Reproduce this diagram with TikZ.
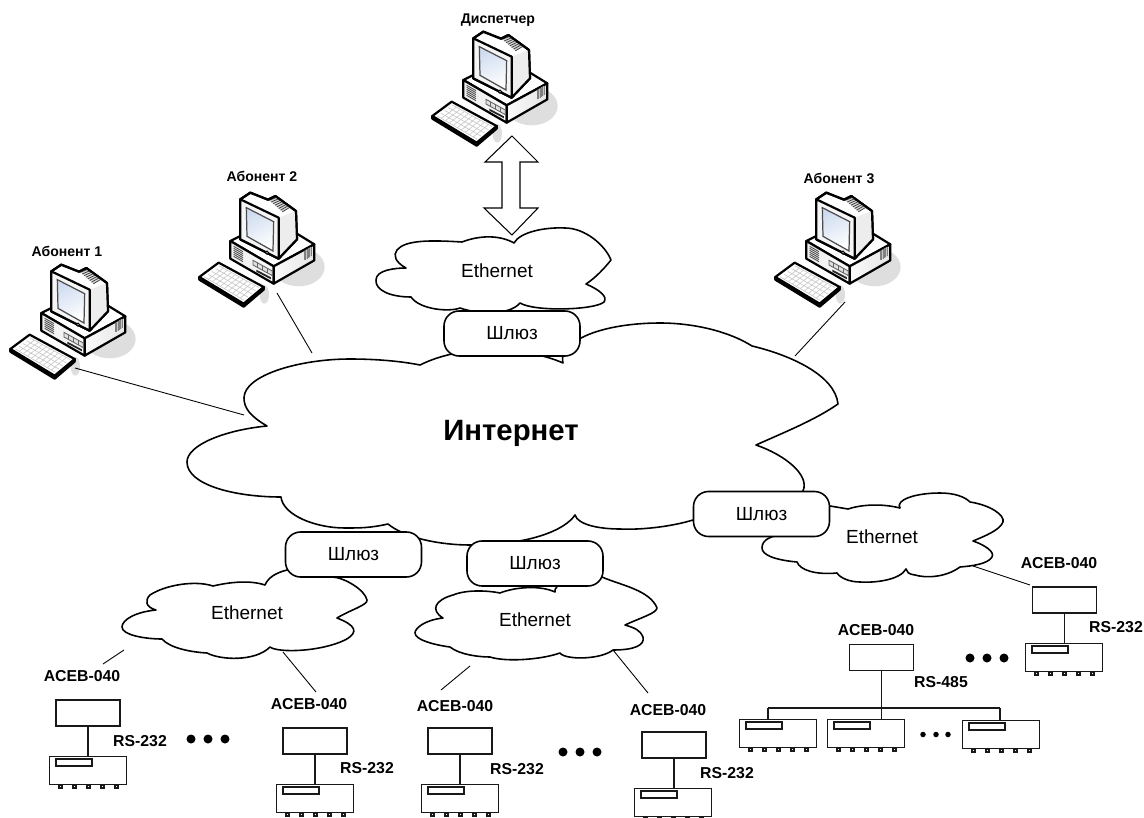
\documentclass[tikz,border=0pt]{standalone}
\usepackage{fontspec}
\setmainfont{Liberation Sans}
\usetikzlibrary{calc}
\definecolor{shadowgray}{HTML}{DEDEDE}
\definecolor{screenblue}{HTML}{CFDCF0}
\tikzset{
  x=0.02cm,y=-0.02cm,
  cloudline/.style={draw=black,fill=white,line width=0.9pt,line join=round},
  gate/.style={draw=black,fill=white,line width=0.9pt,rounded corners=0.3cm,minimum width=2.72cm,minimum height=0.9cm,inner sep=0pt,font=\fontsize{10.8}{12}\selectfont},
  cloudtext/.style={font=\fontsize{10.8}{12}\selectfont,inner sep=0pt},
  biglabel/.style={font=\fontsize{16.7}{18}\selectfont\bfseries,inner sep=0pt},
  tag/.style={font=\fontsize{9}{10}\selectfont\bfseries,inner sep=0pt},
  pclabel/.style={font=\fontsize{8}{9}\selectfont\bfseries,inner sep=0pt},
  acebbox/.style={draw=black!90,fill=white,line width=0.8pt,minimum width=1.28cm,minimum height=0.52cm,inner sep=0pt},
  devbody/.style={draw=black!90,fill=white,line width=0.8pt,minimum width=1.54cm,minimum height=0.56cm,inner sep=0pt,anchor=north west},
  wire/.style={draw=black!90,line width=0.8pt},
  thin wire/.style={draw=black,line width=0.5pt},
  pcline/.style={draw=black,line width=1.25pt,line join=round},
  bigdot/.style={circle,fill=black,inner sep=0pt,minimum size=0.18cm},
  smalldot/.style={circle,fill=black,inner sep=0pt,minimum size=0.11cm},
}
\newcommand{\devicebox}[3]{%
  \node[devbody] (#1) at (#2,#3) {};
  \draw[wire,fill=white] (#2+7,#3+3) rectangle (#2+43,#3+10);
  \foreach \pinx in {10,24,38,52,66}{
    \draw[wire,line width=0.6pt] (#2+\pinx,#3+29) rectangle (#2+\pinx+3,#3+32);
  }
}
\newcommand{\computer}[2]{%
  \begin{scope}[shift={(#1,#2)},x=0.006667cm,y=-0.006667cm]
    \fill[shadowgray] (395,318) ellipse [x radius=78,y radius=58];
    \fill[shadowgray] (292,400) ellipse [x radius=14,y radius=28];
    % base
    \draw[pcline,fill=white] (190,240) -- (320,175) -- (442,250) -- (320,316) -- cycle;
    \draw[pcline,left color=black!7,right color=black!2] (190,240) -- (320,316) -- (320,368) -- (190,293) -- cycle;
    \draw[pcline,left color=black!2,right color=black!10] (320,316) -- (442,250) -- (442,298) -- (320,368) -- cycle;
    \foreach \v in {0,6,...,30}{
      \draw[black!70,line width=0.5pt] (200,256+\v) -- (228,272+\v);
    }
    \fill[black!22] (412,270) -- (432,258) -- (432,286) -- (412,298) -- cycle;
    \foreach \v in {0,4,...,20}{
      \draw[black!50,line width=0.4pt] (412+\v,270-\v*0.6) -- (412+\v,298-\v*0.6);
    }
    \draw[black!60,line width=0.5pt,fill=black!12] (258,298) -- (316,330) -- (316,344) -- (258,312) -- cycle;
    \draw[black!60,line width=0.3pt] (272,306) -- (272,320) (286,314) -- (286,328) (300,322) -- (300,336);
    \fill[black!85] (268,326) -- (312,349) -- (312,355) -- (268,332) -- cycle;
    % monitor
    \draw[pcline,fill=white] (220,115) -- (250,95) -- (303,116) -- (325,105) -- (387,150) -- (390,235) -- (335,293) -- (220,235) -- cycle;
    \fill[black!7] (335,170) -- (387,150) -- (390,235) -- (335,293) -- cycle;
    \fill[black!15] (307,118) -- (332,108) -- (372,138) -- (347,153) -- cycle;
    \foreach \v in {0,0.14,...,1.01}{
      \draw[black!75,line width=0.45pt] ($(307,118)!\v!(347,153)$) -- ($(332,108)!\v!(372,138)$);
    }
    \draw[pcline,fill=white] (220,115) -- (250,95) -- (303,116) -- (325,105) -- (387,150) -- (390,235) -- (335,293) -- (220,235) -- cycle [fill opacity=0];
    \draw[pcline,fill=black!4] (220,115) -- (335,170) -- (335,293) -- (220,235) -- cycle;
    \draw[black!70,line width=0.7pt,left color=screenblue,right color=white,shading angle=25] (238,140) -- (320,182) -- (318,270) -- (240,226) -- cycle;
    \draw[black,line width=0.5pt,fill=black!25] (300,275) circle (5);
    % keyboard
    \draw[pcline,fill=black!15] (97,348) -- (97,356) -- (230,437) -- (290,386) -- (290,378) -- (230,428) -- cycle;
    \draw[pcline,fill=white] (97,348) -- (155,305) -- (290,378) -- (230,428) -- cycle;
    \foreach \t in {0.1,0.2,...,0.95}{
      \draw[black!22,line width=0.35pt] ($(112,348)!\t!(232,418)$) -- ($(157,315)!\t!(277,380)$);
    }
    \foreach \t in {0,0.25,...,1.01}{
      \draw[black!22,line width=0.35pt] ($(112,348)!\t!(157,315)$) -- ($(232,418)!\t!(277,380)$);
    }
  \end{scope}
}
\begin{document}
\begin{tikzpicture}
\useasboundingbox (0,0) rectangle (1144,818);
\fill[white] (0,0) rectangle (1144,818);

% --- computers
\computer{400}{0}
\computer{-22}{233}
\computer{167}{161}
\computer{743}{161}
\node[pclabel] (ldisp) at (498,20) {Диспетчер};
\node[pclabel] (lab1) at (67,251) {Абонент 1};
\node[pclabel] (lab2) at (262,176) {Абонент 2};
\node[pclabel] (lab3) at (839,178) {Абонент 3};

% --- thin connectors from the subscribers
\coordinate (pc1) at (75,368);
\coordinate (pc2) at (277,293);
\coordinate (pc3) at (845,302);
\coordinate (in1) at (244,415);
\coordinate (in2) at (312,353);
\coordinate (in3) at (795,356);
\draw[thin wire] (pc1) -- (in1);
\draw[thin wire] (pc2) -- (in2);
\draw[thin wire] (pc3) -- (in3);

% --- Internet cloud
\draw[cloudline]
  (267,426) .. controls (250,416) and (244,408) .. (244,398)
  .. controls (244,375) and (300,359) .. (350,359)
  .. controls (375,359) and (400,361) .. (420,365)
  .. controls (440,355) and (465,350) .. (490,350)
  .. controls (520,350) and (545,355) .. (563,363)
  .. controls (561,355) and (565,348) .. (581,338)
  .. controls (600,328) and (630,323) .. (660,323)
  .. controls (695,323) and (730,332) .. (752,346)
  .. controls (790,355) and (835,375) .. (838,404)
  .. controls (815,420) and (785,432) .. (756,445)
  .. controls (785,455) and (810,475) .. (803,491)
  .. controls (795,505) and (760,510) .. (740,512)
  .. controls (725,514) and (710,515) .. (693,520)
  .. controls (670,527) and (640,530) .. (620,529)
  .. controls (600,529) and (578,525) .. (575,515)
  .. controls (565,530) and (530,545) .. (470,545)
  .. controls (440,545) and (405,538) .. (388,524)
  .. controls (370,528) and (360,528) .. (345,528)
  .. controls (315,528) and (283,515) .. (281,497)
  .. controls (235,497) and (187,485) .. (187,462)
  .. controls (187,445) and (225,430) .. (267,426) -- cycle;
\node[biglabel] (inet) at (511,433) {Интернет};

% --- top Ethernet
\draw[cloudline]
  (514,243) .. controls (520,232) and (545,227) .. (565,228)
  .. controls (585,228) and (605,245) .. (611,260)
  .. controls (603,270) and (595,278) .. (586,284)
  .. controls (600,290) and (608,297) .. (604,302)
  .. controls (595,310) and (535,312) .. (520,303)
  .. controls (510,315) and (480,315) .. (460,308)
  .. controls (450,312) and (420,310) .. (411,297)
  .. controls (390,297) and (375,290) .. (376,280)
  .. controls (376,270) and (395,268) .. (406,268)
  .. controls (395,262) and (393,255) .. (397,250)
  .. controls (405,240) and (430,240) .. (462,242)
  .. controls (480,235) and (500,235) .. (514,243) -- cycle;
\node[cloudtext] (ethtop) at (497,271) {Ethernet};

% --- double arrow
\draw[draw=black,fill=white,line width=0.6pt,line join=miter]
  (512,136) -- (538,162) -- (520,162) -- (520,208) -- (538,208) -- (512,235)
  -- (484,208) -- (502,208) -- (502,162) -- (485,162) -- cycle;

% --- right Ethernet
\draw[cloudline]
  (830,506) -- (848,509)
  .. controls (860,505) and (880,503) .. (900,508)
  .. controls (895,500) and (915,493) .. (940,493)
  .. controls (955,493) and (965,497) .. (970,502)
  .. controls (990,505) and (1005,515) .. (1003,522)
  .. controls (1000,530) and (985,536) .. (973,541)
  .. controls (985,545) and (995,552) .. (992,557)
  .. controls (988,564) and (972,566) .. (960,567)
  .. controls (945,578) and (925,578) .. (915,575)
  .. controls (908,574) and (907,572) .. (906,569)
  .. controls (900,580) and (875,583) .. (860,582)
  .. controls (850,582) and (840,578) .. (837,573)
  .. controls (815,575) and (800,570) .. (797,562)
  .. controls (775,560) and (762,555) .. (762,548)
  .. controls (762,540) and (770,537) .. (778,535)
  .. controls (790,530) and (820,515) .. (830,506) -- cycle;
\node[cloudtext] (ethright) at (882,537) {Ethernet};

% --- left Ethernet
\draw[cloudline]
  (287,570) .. controls (275,573) and (268,578) .. (265,585)
  .. controls (250,580) and (230,582) .. (213,586)
  .. controls (195,580) and (165,585) .. (150,595)
  .. controls (145,600) and (145,607) .. (156,610)
  .. controls (135,612) and (122,620) .. (122,627)
  .. controls (122,635) and (145,639) .. (162,639)
  .. controls (170,648) and (190,652) .. (207,653)
  .. controls (220,660) and (255,662) .. (270,647)
  .. controls (278,653) and (320,652) .. (345,640)
  .. controls (360,632) and (355,625) .. (337,618)
  .. controls (350,610) and (368,605) .. (367,600)
  .. controls (365,590) and (345,578) .. (333,577)
  .. controls (320,575) and (300,565) .. (287,570) -- cycle;
\node[cloudtext] (ethleft) at (247,613) {Ethernet};

% --- middle Ethernet
\draw[cloudline]
  (500,593) .. controls (515,587) and (540,585) .. (555,592)
  .. controls (553,585) and (570,577) .. (602,577)
  .. controls (620,585) and (650,590) .. (657,608)
  .. controls (657,613) and (640,618) .. (625,625)
  .. controls (635,628) and (640,630) .. (643,637)
  .. controls (645,645) and (635,650) .. (613,650)
  .. controls (600,660) and (565,660) .. (560,653)
  .. controls (540,660) and (505,662) .. (490,657)
  .. controls (480,657) and (460,655) .. (450,647)
  .. controls (435,645) and (415,640) .. (415,633)
  .. controls (415,628) and (425,620) .. (443,618)
  .. controls (430,610) and (435,600) .. (453,595)
  .. controls (465,590) and (485,590) .. (500,593) -- cycle;
\node[cloudtext] (ethmid) at (535,620) {Ethernet};

% --- gateways
\node[gate] (gwtop) at (512,333.5) {Шлюз};
\node[gate] (gwright) at (761.5,514) {Шлюз};
\node[gate] (gwleft) at (353.5,554.5) {Шлюз};
\node[gate] (gwmid) at (535,563.5) {Шлюз};

% --- ACEB boxes and devices
\node[acebbox] (ace1) at (88,713) {};
\node[acebbox] (ace2) at (315,741) {};
\node[acebbox] (ace3) at (460,741) {};
\node[acebbox] (ace4) at (674,745) {};
\node[acebbox] (ace5) at (881.5,657.5) {};
\node[acebbox] (ace6) at (1064.5,600) {};
\devicebox{dev1}{49}{756}
\devicebox{dev2}{276}{784}
\devicebox{dev3}{421}{784}
\devicebox{dev4}{634}{788}
\devicebox{devA}{739}{719}
\devicebox{devB}{827}{719}
\devicebox{devC}{962}{720}
\devicebox{devD}{1025}{643}

\draw[wire] (ace1.south) -- (ace1.south |- dev1.north);
\draw[wire] (ace2.south) -- (ace2.south |- dev2.north);
\draw[wire] (ace3.south) -- (ace3.south |- dev3.north);
\draw[wire] (ace4.south) -- (ace4.south |- dev4.north);
\draw[wire] (ace6.south) -- (ace6.south |- devD.north);
\draw[wire] (ace5.south) -- (ace5.south |- devB.north);
\coordinate (busL) at (768,708);
\coordinate (busR) at (1000,708);
\draw[wire] (busL) -- (busR);
\draw[wire] (busL) -- (busL |- devA.north);
\draw[wire] (busR) -- (busR |- devC.north);

% --- connectors Ethernet to ACEB
\coordinate (l1a) at (124,650); \coordinate (l1b) at (103,664);
\coordinate (l2a) at (283,652); \coordinate (l2b) at (316,692);
\coordinate (l3a) at (470,666); \coordinate (l3b) at (441,690);
\coordinate (l4a) at (613,650); \coordinate (l4b) at (648,693);
\coordinate (l5a) at (973,566); \coordinate (l5b) at (1030,585);
\draw[thin wire] (l1a) -- (l1b);
\draw[thin wire] (l2a) -- (l2b);
\draw[thin wire] (l3a) -- (l3b);
\draw[thin wire] (l4a) -- (l4b);
\draw[thin wire] (l5a) -- (l5b);

% --- labels
\node[tag] (t1) at (82,676) {ACEB-040};
\node[tag] (t2) at (309,704) {ACEB-040};
\node[tag] (t3) at (455,706) {ACEB-040};
\node[tag] (t4) at (668,710) {ACEB-040};
\node[tag] (t5) at (876,630) {ACEB-040};
\node[tag] (t6) at (1059,563) {ACEB-040};
\node[tag] (r1) at (140,741) {RS-232};
\node[tag] (r2) at (367,768) {RS-232};
\node[tag] (r3) at (517,769) {RS-232};
\node[tag] (r4) at (727,773) {RS-232};
\node[tag] (r5) at (1116,627) {RS-232};
\node[tag] (r6) at (941,682) {RS-485};

% --- dots
\foreach \dx/\dy/\nm in {191/739/a,208/739/b,225/739/c,563/752/d,580/752/e,597/752/f,970/658/g,987/658/h,1004/658/i}{
  \node[bigdot] (dot\nm) at (\dx,\dy) {};
}
\foreach \dx/\nm in {923/j,936/k,948/l}{
  \node[smalldot] (dot\nm) at (\dx,734.5) {};
}
\end{tikzpicture}
\end{document}
